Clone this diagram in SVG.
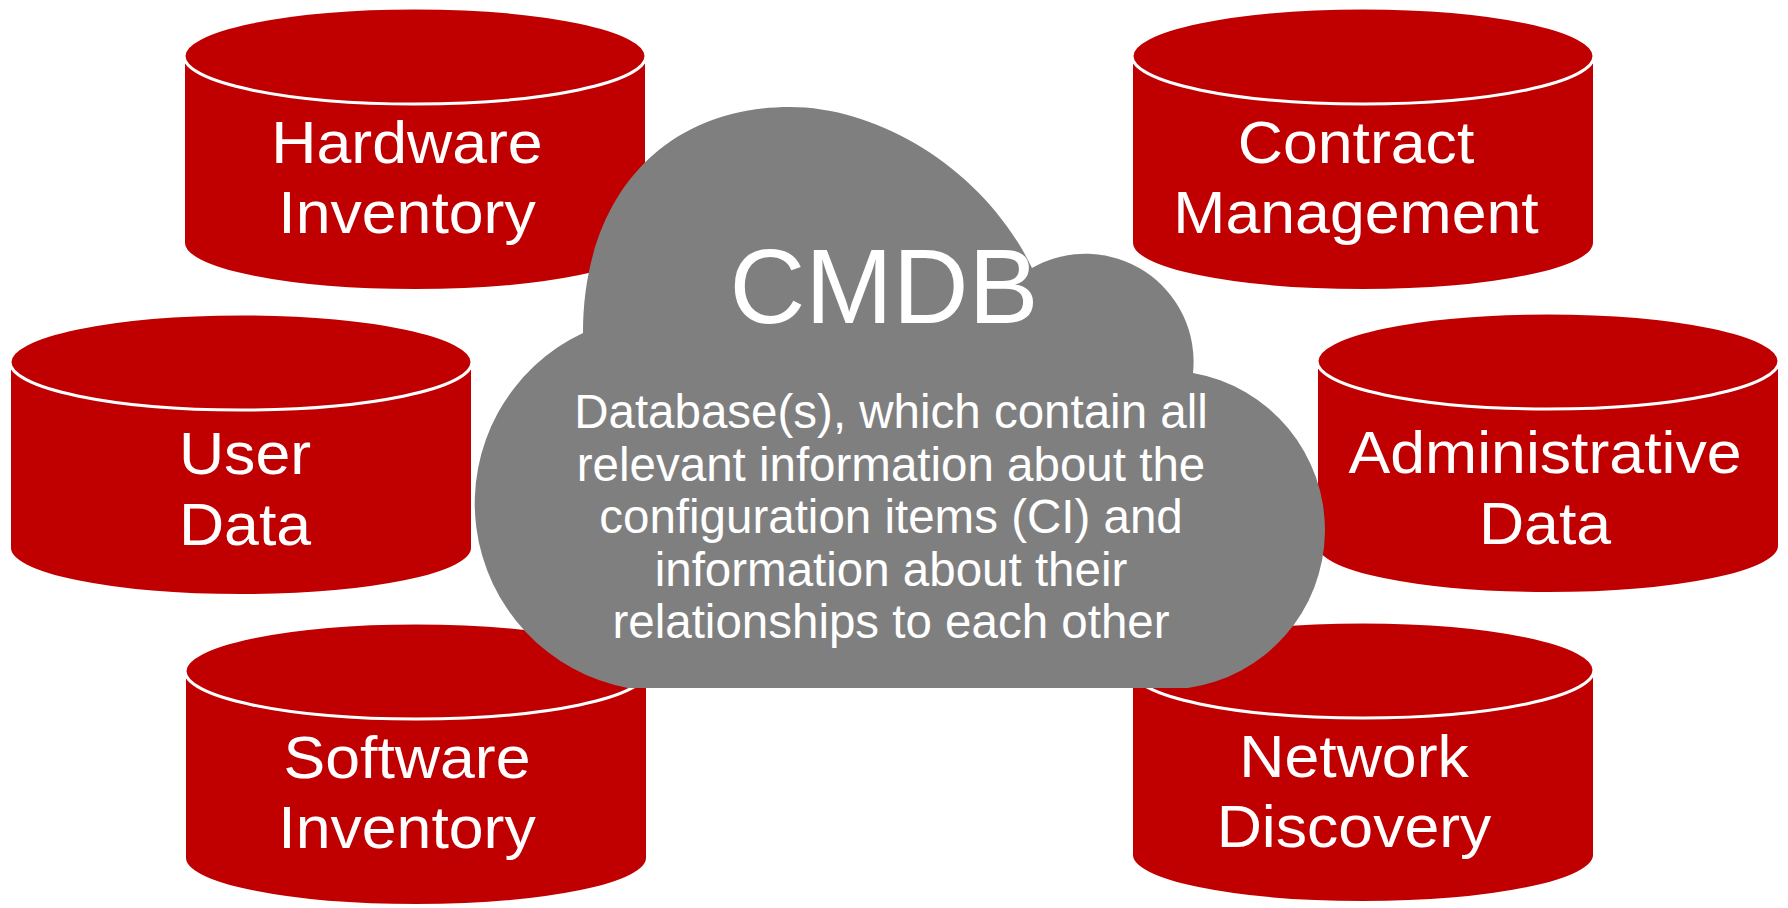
<svg xmlns="http://www.w3.org/2000/svg" width="1788" height="908" viewBox="0 0 1788 908">
  <style>
    .body { fill: #C00000; stroke: #FFFFFF; stroke-width: 2; }
    .top { fill: #C00000; stroke: #FFFFFF; stroke-width: 3; }
    .lbl { font-family: "Liberation Sans", Arial, sans-serif; font-size: 58.5px; fill: #FFFFFF; text-anchor: middle; }
    .cloud { fill: #7F7F7F; }
    .title { font-family: "Liberation Sans", Arial, sans-serif; font-size: 105px; fill: #FFFFFF; text-anchor: middle; }
    .desc { font-family: "Liberation Sans", Arial, sans-serif; font-size: 47.5px; fill: #FFFFFF; text-anchor: middle; }
  </style>
  <rect x="0" y="0" width="1788" height="908" fill="#FFFFFF"/>

  <g id="hardware-inventory">
    <path class="body" d="M184 56 V243 A231 47 0 0 0 646 243 V56 Z"/>
    <ellipse class="top" cx="415" cy="56" rx="231" ry="48"/>
    <g transform="translate(407 0) scale(1.07 1)">
      <text class="lbl" x="0" y="163">Hardware</text>
      <text class="lbl" x="0" y="233">Inventory</text>
    </g>
  </g>

  <g id="contract-management">
    <path class="body" d="M1132 56 V243 A231 47 0 0 0 1594 243 V56 Z"/>
    <ellipse class="top" cx="1363" cy="56" rx="231" ry="48"/>
    <g transform="translate(1356 0) scale(1.07 1)">
      <text class="lbl" x="0" y="163">Contract</text>
      <text class="lbl" x="0" y="233">Management</text>
    </g>
  </g>

  <g id="user-data">
    <path class="body" d="M10 362 V548 A231 47 0 0 0 472 548 V362 Z"/>
    <ellipse class="top" cx="241" cy="362" rx="231" ry="48"/>
    <g transform="translate(245 0) scale(1.07 1)">
      <text class="lbl" x="0" y="474">User</text>
      <text class="lbl" x="0" y="545">Data</text>
    </g>
  </g>

  <g id="administrative-data">
    <path class="body" d="M1317 361 V546 A231 47 0 0 0 1779 546 V361 Z"/>
    <ellipse class="top" cx="1548" cy="361" rx="231" ry="48"/>
    <g transform="translate(1545 0) scale(1.07 1)">
      <text class="lbl" x="0" y="473">Administrative</text>
      <text class="lbl" x="0" y="544">Data</text>
    </g>
  </g>

  <g id="software-inventory">
    <path class="body" d="M185 671 V858 A231 47 0 0 0 647 858 V671 Z"/>
    <ellipse class="top" cx="416" cy="671" rx="231" ry="48"/>
    <g transform="translate(407 0) scale(1.07 1)">
      <text class="lbl" x="0" y="778">Software</text>
      <text class="lbl" x="0" y="848">Inventory</text>
    </g>
  </g>

  <g id="network-discovery">
    <path class="body" d="M1132 670 V855 A231 47 0 0 0 1594 855 V670 Z"/>
    <ellipse class="top" cx="1363" cy="670" rx="231" ry="48"/>
    <g transform="translate(1354 0) scale(1.07 1)">
      <text class="lbl" x="0" y="777">Network</text>
      <text class="lbl" x="0" y="847">Discovery</text>
    </g>
  </g>

  <g id="cmdb-cloud">
    <path class="cloud" d="M628 688 A188 188 0 0 1 583 333 C583 195 665 107 790 107 C880 107 985 170 1032 268 A108 108 0 0 1 1193 373 A159.5 159.5 0 0 1 1188 688 Z"/>
    <text class="title" x="884" y="323">CMDB</text>
    <text class="desc" x="891" y="428">Database(s), which contain all</text>
    <text class="desc" x="891" y="480.5">relevant information about the</text>
    <text class="desc" x="891" y="533">configuration items (CI) and</text>
    <text class="desc" x="891" y="585.5">information about their</text>
    <text class="desc" x="891" y="638">relationships to each other</text>
  </g>

  <g id="connectors"/>
</svg>
